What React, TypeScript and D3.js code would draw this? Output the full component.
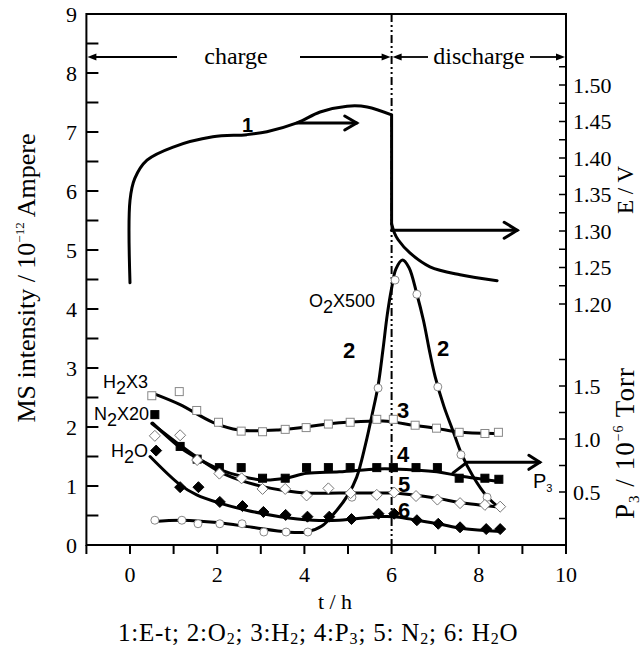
import React from "react";
import * as d3 from "d3";

type P = [number, number];

// axis ticks
const xTickLabels = [0, 2, 4, 6, 8, 10];
const leftTickLabels = [0, 1, 2, 3, 4, 5, 6, 7, 8, 9];
const eTickLabels = [1.2, 1.25, 1.3, 1.35, 1.4, 1.45, 1.5];
const pTickLabels = [0.5, 1.0, 1.5];
const switchTime = 6; // charge -> discharge

// 1: E-t (right axis, V)
const eCharge: P[] = [
  [0, 1.229], [0, 1.342], [0.11, 1.372], [0.39, 1.397], [0.99, 1.415], [1.9, 1.429],
  [2.68, 1.432], [3.14, 1.436], [3.83, 1.448], [4.36, 1.463], [4.98, 1.471], [5.44, 1.47], [6, 1.459],
];
const eDischarge: P[] = [
  [6, 1.31], [6.06, 1.298], [6.15, 1.288], [6.42, 1.27], [6.88, 1.251], [7.57, 1.24], [8.42, 1.232],
];

// 2: O2 x500 (left axis)
const o2Curve: P[] = [
  [0.55, 0.4], [1.2, 0.42], [2.0, 0.38], [2.8, 0.3], [3.6, 0.22], [4.05, 0.22], [4.4, 0.32], [4.7, 0.55],
  [5.0, 0.85], [5.2, 1.15], [5.4, 1.7], [5.55, 2.2], [5.69, 2.7], [5.8, 3.3], [5.9, 3.9], [6.0, 4.35],
  [6.1, 4.68], [6.25, 4.83], [6.4, 4.7], [6.58, 4.25], [6.73, 3.81], [6.88, 3.25], [7.0, 2.85],
  [7.2, 2.35], [7.4, 1.95], [7.6, 1.55], [7.87, 1.16], [8.19, 0.82], [8.49, 0.62],
];
const o2Points: P[] = [
  [0.57, 0.42], [1.19, 0.42], [1.56, 0.36], [2.06, 0.36], [2.57, 0.36], [3.07, 0.22], [3.58, 0.22],
  [4.08, 0.22], [5.09, 0.81], [5.69, 2.66], [6.08, 4.49], [6.58, 4.25], [7.06, 2.68], [7.59, 1.53], [8.19, 0.81],
];

// 3: H2 x3 (left axis)
const h2Curve: P[] = [
  [0.6, 2.55], [1.15, 2.38], [1.9, 2.08], [2.5, 1.95], [3.4, 1.95], [4.8, 2.07], [5.8, 2.1],
  [6.5, 2.03], [7.0, 1.98], [7.6, 1.91], [8.5, 1.89],
];
const h2Points: P[] = [
  [0.5, 2.53], [1.13, 2.6], [1.53, 2.28], [2.03, 2.08], [2.55, 1.93], [3.04, 1.92], [3.56, 1.96],
  [4.04, 1.99], [4.55, 2.05], [5.05, 2.08], [5.66, 2.13], [6.04, 2.13], [6.54, 2.03], [7.03, 1.98],
  [7.55, 1.91], [8.14, 1.89], [8.45, 1.91],
];

// 4: P3 (right axis, 10^-6 Torr)
const p3Curve: P[] = [
  [0.52, 1.15], [1.15, 0.92], [1.54, 0.82], [2.05, 0.714], [2.53, 0.651], [3.06, 0.613], [3.56, 0.629],
  [4.05, 0.676], [4.8, 0.69], [5.66, 0.717], [6.04, 0.717], [7.04, 0.69], [7.57, 0.651], [8.5, 0.597],
];
const p3Points: P[] = [
  [0.57, 1.23], [1.15, 0.93], [1.54, 0.81], [2.05, 0.73], [2.55, 0.73], [3.04, 0.63], [3.56, 0.63],
  [4.05, 0.73], [4.55, 0.73], [5.05, 0.73], [5.66, 0.73], [6.04, 0.73], [6.56, 0.73], [7.05, 0.73],
  [7.55, 0.63], [8.14, 0.63], [8.46, 0.62],
];

// 5: N2 x20 (left axis)
const n2Curve: P[] = [
  [0.5, 2.06], [1.15, 1.69], [1.53, 1.49], [2.06, 1.24], [2.52, 1.1], [3.05, 0.99], [3.56, 0.92],
  [4.05, 0.88], [4.8, 0.88], [5.66, 0.88], [6.06, 0.88], [7.05, 0.79], [7.57, 0.72], [8.5, 0.64],
];
const n2Points: P[] = [
  [0.57, 1.85], [1.15, 1.86], [1.54, 1.44], [2.05, 1.21], [2.56, 1.13], [3.04, 0.95], [3.56, 0.95],
  [4.05, 0.84], [4.55, 0.96], [5.06, 0.88], [5.66, 0.85], [6.06, 0.89], [6.56, 0.83], [7.05, 0.77],
  [7.57, 0.71], [8.14, 0.68], [8.49, 0.65],
];

// 6: H2O (left axis)
const h2oCurve: P[] = [
  [0.46, 1.5], [1.15, 1.02], [1.53, 0.85], [2.06, 0.71], [2.67, 0.59], [3.44, 0.48], [4.2, 0.42],
  [4.8, 0.42], [5.7, 0.48], [6.06, 0.48], [7.05, 0.36], [7.63, 0.28], [8.5, 0.23],
];
const h2oPoints: P[] = [
  [0.6, 1.6], [1.15, 0.98], [1.57, 0.98], [2.06, 0.73], [2.58, 0.66], [3.06, 0.56], [3.57, 0.51],
  [4.07, 0.48], [4.57, 0.48], [5.08, 0.44], [5.7, 0.53], [6.06, 0.53], [6.58, 0.42], [7.07, 0.36],
  [7.57, 0.3], [8.17, 0.27], [8.49, 0.27],
];

// pointer arrows
const eChargeArrow: P[] = [[3.83, 1.448], [5.2, 1.448]];
const eDischargeArrow: P[] = [[6, 1.301], [8.88, 1.301]];
const p3Arrow: P[] = [[7.41, 0.68], [7.73, 0.78], [9.4, 0.78]];

const serif = "'Liberation Serif', 'Times New Roman', serif";
const sans = "'Liberation Sans', Arial, sans-serif";

export default function App() {
  const x = d3.scaleLinear().domain([-1, 10]).range([86.4, 566]);
  const yL = d3.scaleLinear().domain([0, 9]).range([545, 14]);
  const yE = d3.scaleLinear().domain([1.2, 1.5]).range([304, 85]);
  const yP = d3.scaleLinear().domain([0, 1.5]).range([545, 386]);
  const smooth = d3.curveCatmullRom.alpha(0.5);

  const lineL = d3.line<P>().x((d) => x(d[0])).y((d) => yL(d[1])).curve(smooth);
  const lineE = d3.line<P>().x((d) => x(d[0])).y((d) => yE(d[1])).curve(smooth);
  const lineP = d3.line<P>().x((d) => x(d[0])).y((d) => yP(d[1])).curve(smooth);
  const straightE = d3.line<P>().x((d) => x(d[0])).y((d) => yE(d[1]));
  const straightP = d3.line<P>().x((d) => x(d[0])).y((d) => yP(d[1]));

  const left = x(-1), right = x(10), top = yL(9), bottom = yL(0);
  const xs = x(switchTime);
  const arrowY = 57;

  const chevron = (px: number, py: number, len: number, half: number) =>
    `M${px - len},${py - half}L${px},${py}L${px - len},${py + half}`;
  const tri = (px: number, py: number, dir: number) =>
    `M${px},${py}L${px - dir * 9},${py - 3.5}L${px - dir * 9},${py + 3.5}Z`;

  const square = (p: P, yS: (v: number) => number, filled: boolean, key: string) => (
    <rect key={key} x={x(p[0]) - 4} y={yS(p[1]) - 4} width={8} height={8}
      fill={filled ? "#000" : "#fff"} stroke={filled ? "#000" : "#888"} strokeWidth={1} />
  );
  const diamond = (p: P, filled: boolean, key: string) => {
    const cx = x(p[0]), cy = yL(p[1]), r = 5.5;
    return (
      <path key={key} d={`M${cx},${cy - r}L${cx + r},${cy}L${cx},${cy + r}L${cx - r},${cy}Z`}
        fill={filled ? "#000" : "#fff"} stroke={filled ? "#000" : "#777"} strokeWidth={1} />
    );
  };

  return (
    <svg width={643} height={652} style={{ position: "absolute", left: 0, top: 0, background: "#fff" }}>
      {/* frame */}
      <rect x={left} y={top} width={right - left} height={bottom - top} fill="none" stroke="#000" strokeWidth={2} />

      {/* left ticks */}
      {d3.range(0, 9.01, 0.5).map((v) => (
        <line key={"lt" + v} x1={left} x2={left + 12} y1={yL(v)} y2={yL(v)} stroke="#000" strokeWidth={2} />
      ))}
      {leftTickLabels.map((v) => (
        <text key={"ll" + v} x={77} y={yL(v) + 7.5} textAnchor="end" fontFamily={serif} fontSize={22}>{v}</text>
      ))}

      {/* bottom ticks */}
      {d3.range(-1, 10.01, 1).map((t) => (
        <line key={"bt" + t} x1={x(t)} x2={x(t)} y1={bottom} y2={bottom + 9} stroke="#000" strokeWidth={2} />
      ))}
      {xTickLabels.map((t) => (
        <text key={"bl" + t} x={x(t)} y={582} textAnchor="middle" fontFamily={serif} fontSize={22}>{t}</text>
      ))}

      {/* right E ticks */}
      {d3.range(1.2, 1.526, 0.025).map((v) => (
        <line key={"et" + v} x1={right - 7} x2={right} y1={yE(v)} y2={yE(v)} stroke="#000" strokeWidth={1.5} />
      ))}
      {eTickLabels.map((v) => (
        <text key={"el" + v} x={right + 7} y={yE(v) + 7.5} fontFamily={serif} fontSize={22}>{v.toFixed(2)}</text>
      ))}
      {/* right P3 ticks */}
      {d3.range(0.25, 1.76, 0.25).map((v) => (
        <line key={"pt" + v} x1={right - 7} x2={right} y1={yP(v)} y2={yP(v)} stroke="#000" strokeWidth={1.5} />
      ))}
      {pTickLabels.map((v) => (
        <text key={"pl" + v} x={right + 7} y={yP(v) + 7.5} fontFamily={serif} fontSize={22}>{v.toFixed(1)}</text>
      ))}

      {/* axis titles */}
      <text transform={`translate(35,${278}) rotate(-90)`} textAnchor="middle" fontFamily={serif} fontSize={26}>
        MS intensity / 10<tspan dy={-11} fontSize={13}>−12</tspan><tspan dy={11}> Ampere</tspan>
      </text>
      <text transform={`translate(633,190) rotate(-90)`} textAnchor="middle" fontFamily={serif} fontSize={23}>E / V</text>
      <text transform={`translate(634,443) rotate(-90)`} textAnchor="middle" fontFamily={serif} fontSize={27} letterSpacing={1}>
        P<tspan dy={5} fontSize={15}>3</tspan><tspan dy={-5}> / 10</tspan><tspan dy={-11} fontSize={14}>−6</tspan><tspan dy={11}> Torr</tspan>
      </text>
      <text x={335} y={609} textAnchor="middle" fontFamily={serif} fontSize={22}>t / h</text>
      <text x={118} y={641} fontFamily={serif} fontSize={25} letterSpacing={0.8}>
        1:E-t; 2:O<tspan dy={3} fontSize={16}>2</tspan><tspan dy={-3}>; 3:H</tspan><tspan dy={3} fontSize={16}>2</tspan>
        <tspan dy={-3}>; 4:P</tspan><tspan dy={3} fontSize={16}>3</tspan><tspan dy={-3}>; 5: N</tspan>
        <tspan dy={3} fontSize={16}>2</tspan><tspan dy={-3}>; 6: H</tspan><tspan dy={3} fontSize={16}>2</tspan><tspan dy={-3}>O</tspan>
      </text>

      {/* charge / discharge */}
      <line x1={xs} x2={xs} y1={top} y2={bottom} stroke="#000" strokeWidth={2} strokeDasharray="8,3,2,3,2,3" />
      <line x1={left + 8} x2={177} y1={arrowY} y2={arrowY} stroke="#000" strokeWidth={1.8} />
      <path d={tri(left + 1, arrowY, -1)} fill="#000" />
      <text x={236} y={arrowY + 7} textAnchor="middle" fontFamily={serif} fontSize={24}>charge</text>
      <line x1={300} x2={xs - 8} y1={arrowY} y2={arrowY} stroke="#000" strokeWidth={1.8} />
      <path d={tri(xs - 1, arrowY, 1)} fill="#000" />
      <path d={tri(xs + 1, arrowY, -1)} fill="#000" />
      <line x1={xs + 8} x2={428} y1={arrowY} y2={arrowY} stroke="#000" strokeWidth={1.8} />
      <text x={479} y={arrowY + 7} textAnchor="middle" fontFamily={serif} fontSize={24}>discharge</text>
      <line x1={530} x2={right - 8} y1={arrowY} y2={arrowY} stroke="#000" strokeWidth={1.8} />
      <path d={tri(right - 1, arrowY, 1)} fill="#000" />

      {/* curves */}
      <g fill="none" stroke="#000" strokeWidth={3} strokeLinecap="round">
        <path d={lineE(eCharge) ?? ""} />
        <line x1={xs} x2={xs} y1={yE(eCharge[eCharge.length - 1][1])} y2={yE(eDischarge[0][1])} />
        <path d={lineE(eDischarge) ?? ""} />
        <path d={lineL(o2Curve) ?? ""} />
        <path d={lineL(h2Curve) ?? ""} />
        <path d={lineP(p3Curve) ?? ""} />
        <path d={lineL(n2Curve) ?? ""} />
        <path d={lineL(h2oCurve) ?? ""} />
        <path d={straightE(eChargeArrow) ?? ""} />
        <path d={chevron(x(eChargeArrow[1][0]), yE(eChargeArrow[1][1]), 12, 7)} strokeLinejoin="miter" />
        <path d={straightE(eDischargeArrow) ?? ""} />
        <path d={chevron(x(eDischargeArrow[1][0]), yE(eDischargeArrow[1][1]), 13, 8)} />
        <path d={straightP(p3Arrow) ?? ""} />
        <path d={chevron(x(p3Arrow[2][0]), yP(p3Arrow[2][1]), 11, 7)} />
      </g>

      {/* markers */}
      {o2Points.map((p, i) => (
        <circle key={"o" + i} cx={x(p[0])} cy={yL(p[1])} r={4} fill="#fff" stroke="#888" strokeWidth={1} />
      ))}
      {h2Points.map((p, i) => square(p, yL, false, "h" + i))}
      {p3Points.map((p, i) => square(p, yP, true, "p" + i))}
      {n2Points.map((p, i) => diamond(p, false, "n" + i))}
      {h2oPoints.map((p, i) => diamond(p, true, "w" + i))}

      {/* annotations */}
      <g fontFamily={sans} fontSize={18}>
        <text x={103} y={388}>H<tspan dy={6}>2</tspan><tspan dy={-6}>X3</tspan></text>
        <text x={94} y={420}>N<tspan dy={6}>2</tspan><tspan dy={-6}>X20</tspan></text>
        <text x={111} y={457}>H<tspan dy={6}>2</tspan><tspan dy={-6}>O</tspan></text>
        <text x={309} y={307}>O<tspan dy={6}>2</tspan><tspan dy={-6}>X500</tspan></text>
        <text x={533} y={488} fontSize={20}>P<tspan dy={4} fontSize={11}>3</tspan></text>
      </g>
      <g fontFamily={sans} fontWeight="bold" fontSize={22}>
        <text x={242} y={132} fontSize={20}>1</text>
        <text x={343} y={358}>2</text>
        <text x={437} y={356}>2</text>
        <text x={397} y={418}>3</text>
        <text x={397} y={462}>4</text>
        <text x={398} y={492}>5</text>
        <text x={398} y={518}>6</text>
      </g>
    </svg>
  );
}
